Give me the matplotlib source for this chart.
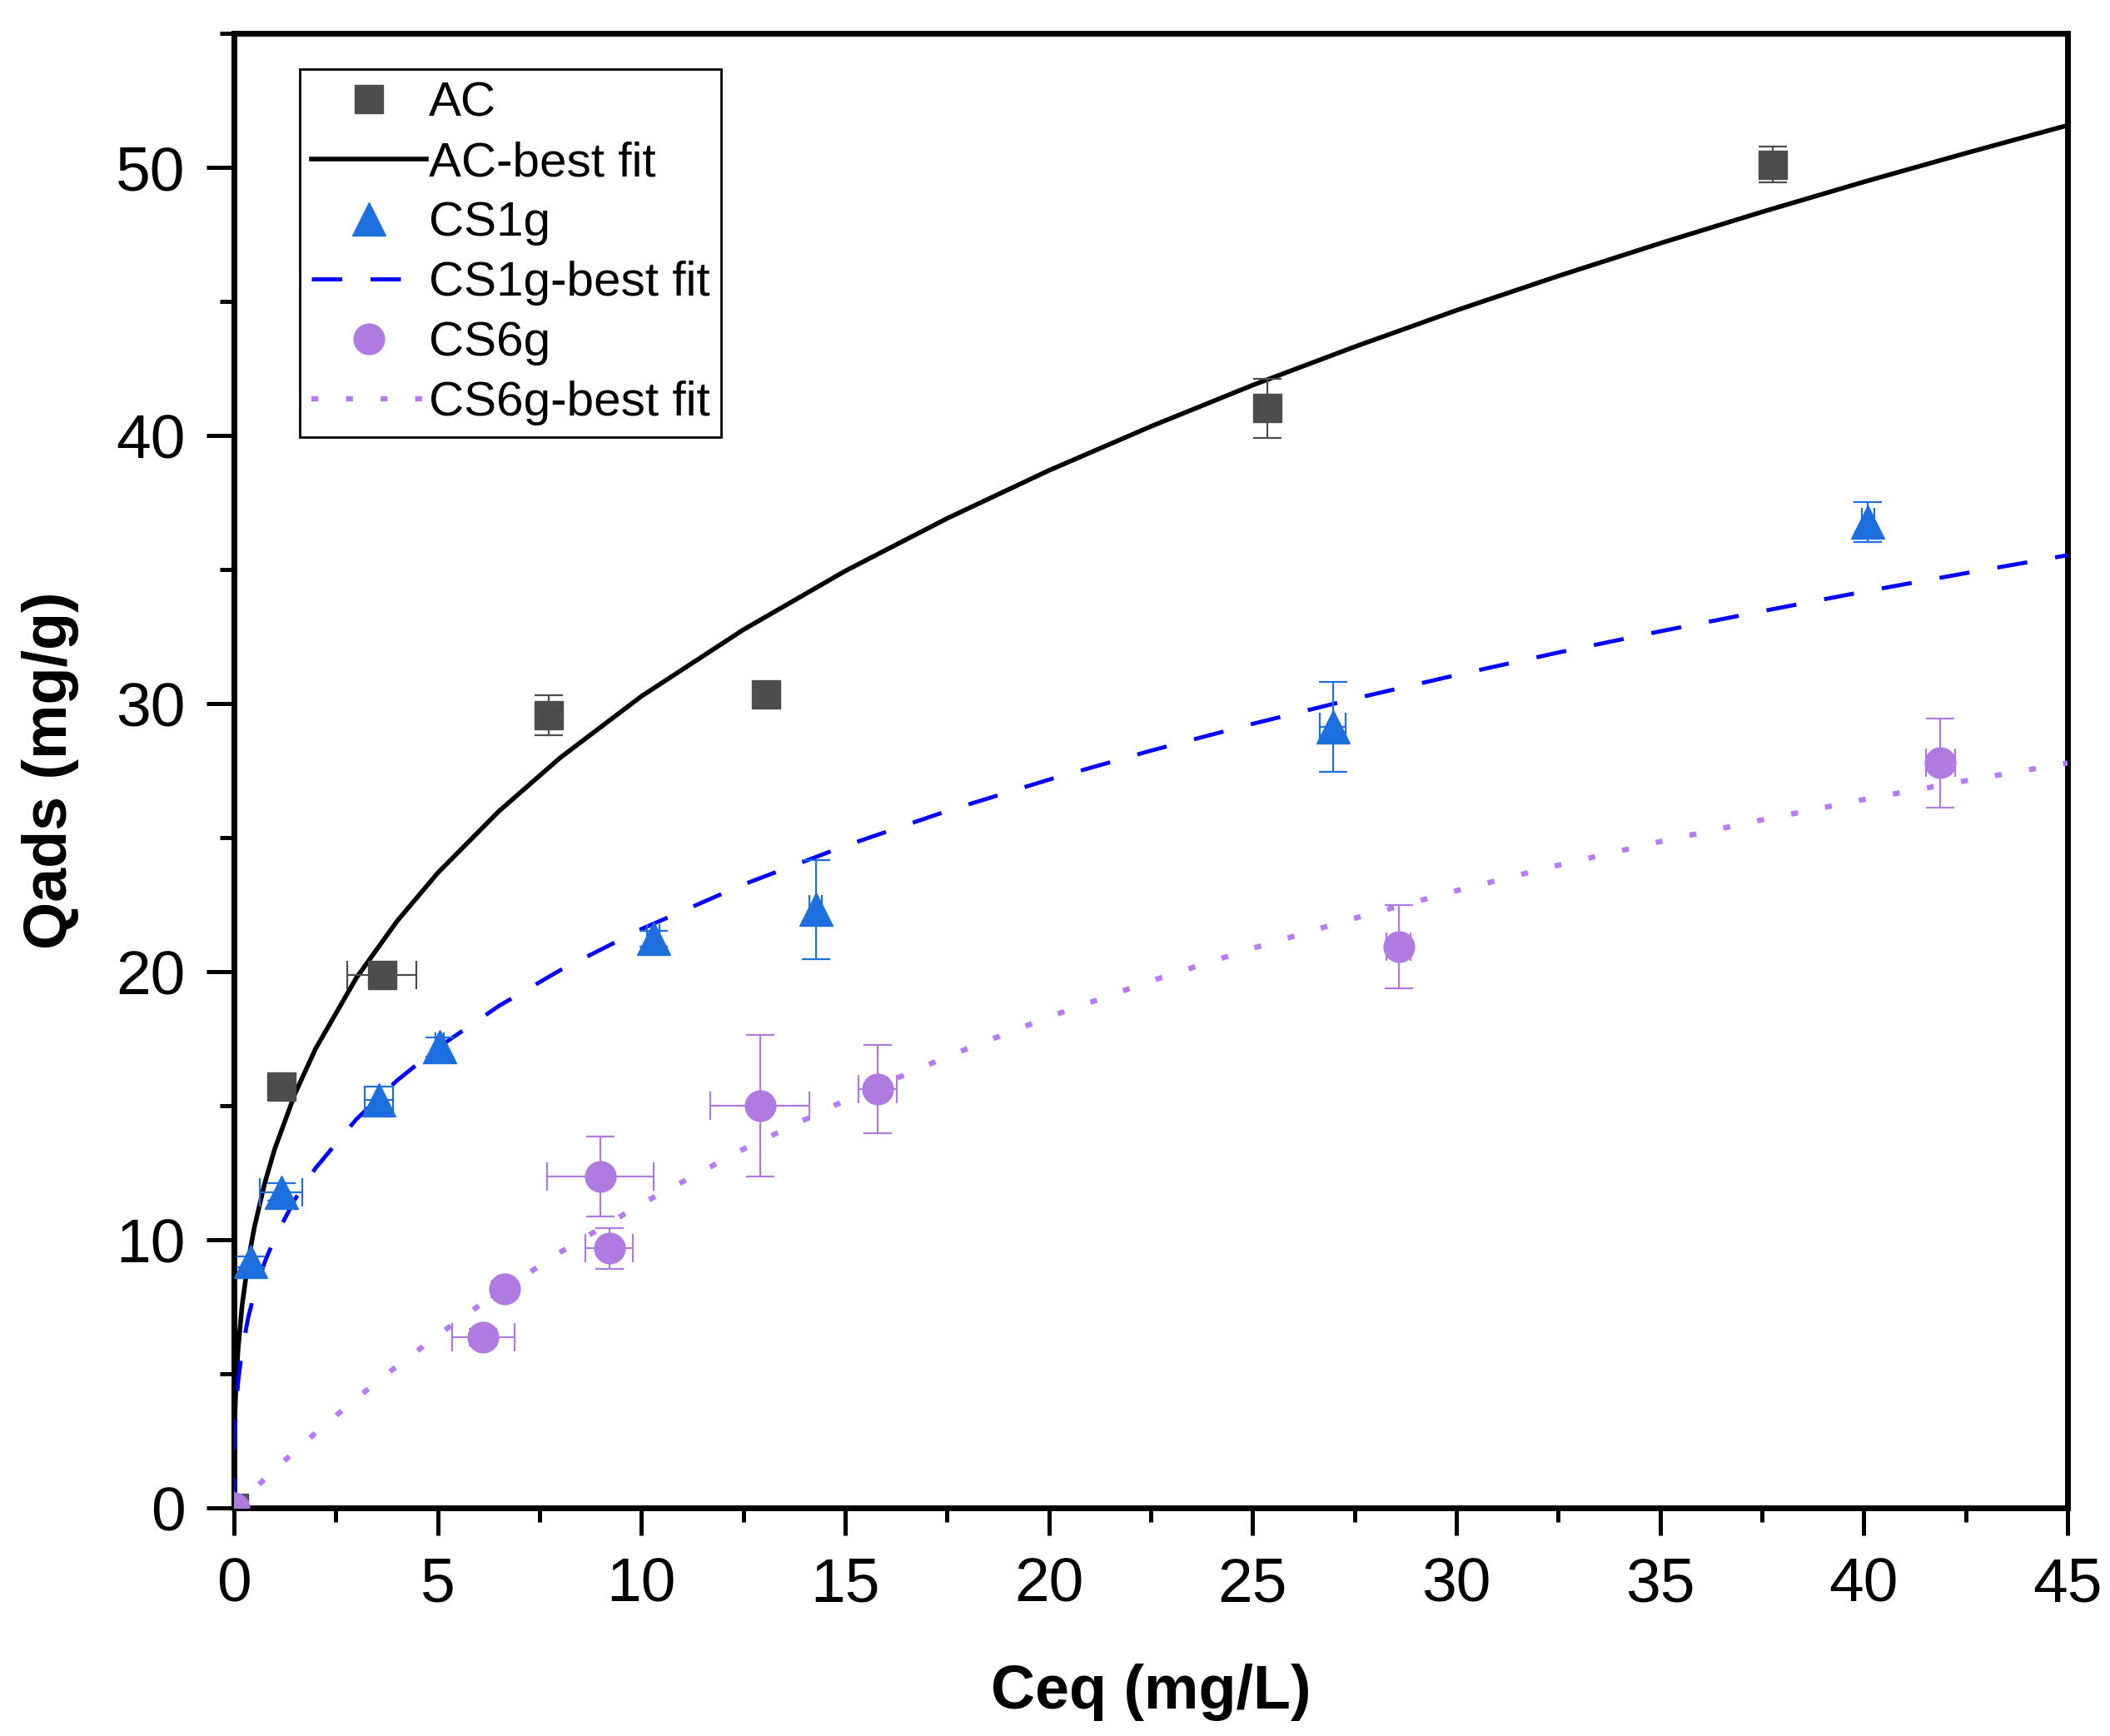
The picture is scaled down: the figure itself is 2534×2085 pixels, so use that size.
import matplotlib
matplotlib.use("Agg")
import matplotlib.pyplot as plt
from matplotlib.ticker import MultipleLocator

plt.rcParams['font.family'] = ['Liberation Sans', 'DejaVu Sans']

# ---------------- data ----------------
ac_x = [0, 1.16, 3.63, 7.72, 13.05, 25.37, 37.76]
ac_y = [0, 15.71, 19.88, 29.57, 30.34, 41.02, 50.11]
ac_yerr = [0, 0.3, 0.3, 0.75, 0.25, 1.1, 0.68]
ac_xerr = [0, 0, 0.85, 0, 0, 0, 0]

cs1_x = [0, 0.40, 1.16, 3.55, 5.05, 10.29, 14.28, 26.97, 40.10]
cs1_y = [0, 9.20, 11.79, 15.24, 17.20, 21.24, 22.33, 29.14, 36.77]
cs1_yerr = [0, 0.2, 0.33, 0.5, 0.35, 0.3, 1.85, 1.67, 0.75]
cs1_xerr = [0, 0.0, 0.52, 0.35, 0.1, 0.15, 0.15, 0.32, 0.15]

cs6_x = [0, 6.12, 6.64, 8.99, 9.21, 12.91, 15.79, 28.58, 41.88]
cs6_y = [0, 6.38, 8.17, 12.37, 9.70, 15.01, 15.63, 20.94, 27.79]
cs6_yerr = [0, 0.3, 0.3, 1.48, 0.76, 2.65, 1.65, 1.55, 1.67]
cs6_xerr = [0, 0.77, 0.0, 1.30, 0.58, 1.22, 0.47, 0.3, 0.36]

# best-fit curves
fit_x = [0, 0.02, 0.05, 0.1, 0.2, 0.35, 0.5, 0.75, 1, 1.5, 2, 3, 4, 5, 6.5, 8, 10,
         12.5, 15, 17.5, 20, 22.5, 25, 27.5, 30, 32.5, 35, 37.5, 40, 42.5, 45]
ac_fit_y = [0, 3.35, 4.64, 5.93, 7.58, 9.24, 10.48, 12.10, 13.40, 15.47, 17.13, 19.77,
            21.89, 23.69, 25.99, 27.98, 30.28, 32.76, 34.95, 36.91, 38.70, 40.34, 41.88,
            43.31, 44.67, 45.95, 47.17, 48.34, 49.46, 50.53, 51.57]
cs1_fit_y = [0, 2.76, 3.74, 4.70, 5.92, 7.12, 8.01, 9.16, 10.08, 11.53, 12.68, 14.50,
             15.95, 17.17, 18.73, 20.06, 21.60, 23.26, 24.70, 26.00, 27.17, 28.25, 29.25,
             30.19, 31.07, 31.91, 32.70, 33.45, 34.18, 34.87, 35.54]
cs6_fit_x = [0, 1, 2, 3, 4, 5, 6, 8, 10, 12.5, 15, 17.5, 20, 22.5, 25, 27.5, 30,
             32.5, 35, 37.5, 40, 42.5, 45]
cs6_fit_y = [0, 1.45, 2.81, 4.09, 5.30, 6.45, 7.54, 9.54, 11.35, 13.39, 15.21, 16.84,
             18.32, 19.66, 20.88, 22.00, 23.03, 23.98, 24.86, 25.67, 26.43, 27.13, 27.79]

labels = ['AC', 'AC-best fit', 'CS1g', 'CS1g-best fit', 'CS6g', 'CS6g-best fit']
x_ticks = [0, 5, 10, 15, 20, 25, 30, 35, 40, 45]
y_ticks = [0, 10, 20, 30, 40, 50]

# ---------------- styles ----------------
c_ac = '#4d4d4d'
c_cs1 = '#1c6fdc'
c_cs6 = '#b07be0'
c_fit1 = '#0000ff'
c_fit6 = '#b77cf5'

fig = plt.figure(figsize=(25.34, 20.85), dpi=100)
ax = fig.add_axes([0.1109, 0.1312, 0.9799 - 0.1109, 0.9808 - 0.1312])

eb_kw = dict(elinewidth=1.6, capsize=12.5, capthick=1.6)

e1 = ax.errorbar(ac_x, ac_y, yerr=ac_yerr, xerr=ac_xerr, fmt='s', color=c_ac,
                 ms=24.5, mec=c_ac, ecolor=c_ac, zorder=4, **eb_kw)
l1, = ax.plot(fit_x, ac_fit_y, color='black', lw=4.0, zorder=3)
e2 = ax.errorbar(cs1_x, cs1_y, yerr=cs1_yerr, xerr=cs1_xerr, fmt='^', color=c_cs1,
                 ms=29, mec=c_cs1, ecolor=c_cs1, zorder=4, **eb_kw)
l2, = ax.plot(fit_x, cs1_fit_y, color=c_fit1, lw=3.5, linestyle=(0, (7.5, 7)), zorder=3)
e3 = ax.errorbar(cs6_x, cs6_y, yerr=cs6_yerr, xerr=cs6_xerr, fmt='o', color=c_cs6,
                 ms=26.5, mec=c_cs6, ecolor=c_cs6, zorder=4, **eb_kw)
l3, = ax.plot(cs6_fit_x, cs6_fit_y, color=c_fit6, lw=4.6, linestyle=(0, (1.3, 5.2)), zorder=3)

ax.set_xlim(0, 45)
ax.set_ylim(0, 55)
ax.set_xticks(x_ticks)
ax.set_yticks(y_ticks)
ax.xaxis.set_minor_locator(MultipleLocator(2.5))
ax.yaxis.set_minor_locator(MultipleLocator(5))

for s in ax.spines.values():
    s.set_linewidth(5)
ax.tick_params(axis='both', which='major', direction='out', length=24, width=3.6,
               labelsize=54, pad=18, top=False, right=False)
ax.tick_params(axis='both', which='minor', direction='out', length=12, width=3.6,
               top=False, right=False)

ax.set_xlabel('Ceq (mg/L)', fontsize=53, fontweight='bold')
ax.set_ylabel('Qads (mg/g)', fontsize=53, fontweight='bold')
ax.xaxis.set_label_coords(0.5, -0.125)
ax.xaxis.label.set_va('center')
ax.yaxis.set_label_coords(-0.100, 0.5)
ax.yaxis.label.set_va('center')

handles = [e1.lines[0], l1, e2.lines[0], l2, e3.lines[0], l3]
leg = ax.legend(handles, labels, loc='upper left', bbox_to_anchor=(0.0359, 0.9757),
                borderaxespad=0, fontsize=42, frameon=True, fancybox=False,
                edgecolor='black', framealpha=1, handlelength=2.36, handletextpad=0.05,
                labelspacing=0.31, borderpad=0.24, numpoints=1)
leg.get_frame().set_linewidth(2)

fig.savefig('out.png', dpi=100)
